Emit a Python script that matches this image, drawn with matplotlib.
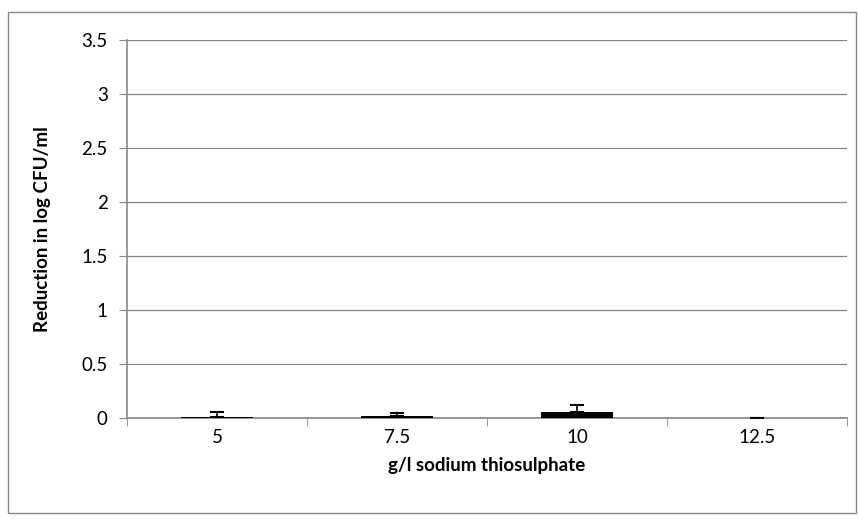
import matplotlib
matplotlib.use('Agg')
import matplotlib.pyplot as plt
from matplotlib.patches import Rectangle
import numpy as np

categories = ['5', '7.5', '10', '12.5']
reduction = [0.004, 0.02, 0.055, 0.002]
err_plus = [0.05, 0.025, 0.065, 0.0]

plt.rcParams['font.family'] = ['Lato', 'DejaVu Sans']

fig = plt.figure(figsize=(8.59, 5.21), dpi=100)
ax = fig.add_axes([0.148, 0.198, 0.838, 0.725])

x = np.arange(len(categories))
ax.bar(x, reduction, width=0.4, color='black', zorder=3)
ax.errorbar(x, reduction, yerr=[np.zeros(len(x)), err_plus], fmt='none',
            ecolor='black', elinewidth=1.2, capsize=5, capthick=1.5, zorder=4)

ax.set_xlim(-0.5, len(categories) - 0.5)
ax.set_ylim(0, 3.5)
ax.set_yticks(np.arange(0, 3.51, 0.5))
ax.set_yticklabels(['0', '0.5', '1', '1.5', '2', '2.5', '3', '3.5'])
ax.set_xticks(x)
ax.set_xticks(np.arange(-0.5, len(categories)), minor=True)
ax.set_xticklabels(categories)
ax.tick_params(axis='x', which='major', length=0, pad=8, labelsize=13.5)
ax.tick_params(axis='x', which='minor', length=6, color='#868686', direction='out')
ax.tick_params(axis='y', length=6, color='#868686', direction='out', labelsize=13.5, pad=8)

ax.grid(axis='y', color='#868686', linewidth=0.9, zorder=0)
for side in ['top', 'right']:
    ax.spines[side].set_visible(False)
for side in ['left', 'bottom']:
    ax.spines[side].set_color('#868686')
    ax.spines[side].set_linewidth(1.2)

ax.set_xlabel('g/l sodium thiosulphate', fontsize=13.5, fontweight='bold', labelpad=8)
ax.set_ylabel('Reduction in log CFU/ml', fontsize=13.5, fontweight='bold', labelpad=22)

fig.patches.append(Rectangle((0.009, 0.015), 0.988, 0.962, transform=fig.transFigure,
                             fill=False, edgecolor='#868686', linewidth=1))

fig.savefig('out.png', dpi=100)
